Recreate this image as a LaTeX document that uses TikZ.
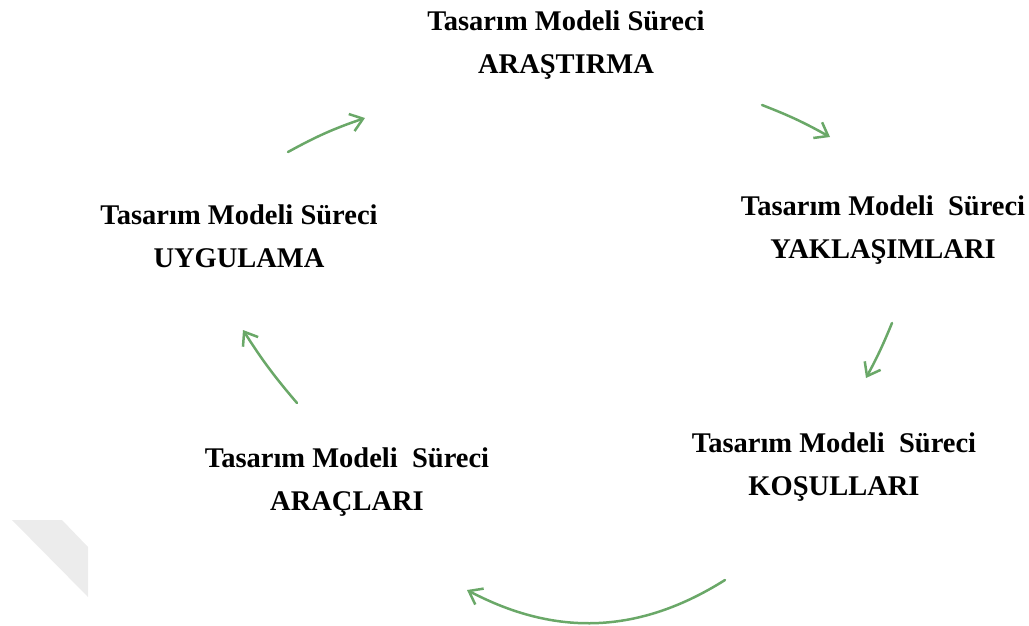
\documentclass[tikz,border=0pt]{standalone}
\usepackage{fontspec}
\setmainfont{Liberation Serif}
\usepackage{xcolor}
\usetikzlibrary{arrows.meta}
\definecolor{cyclegreen}{RGB}{106,168,104}
\definecolor{markgray}{RGB}{236,236,236}

\begin{document}
\begin{tikzpicture}[x=1pt,y=-1pt]
				\useasboundingbox (0,0) rectangle (1029,625);
				\fill[markgray] (12,520) -- (62,520) -- (88,547) -- (88,597) -- cycle;

				\begin{scope}[every node/.style={align=center,anchor=base,inner sep=0pt,font=\bfseries\fontsize{28.5}{43}\selectfont}]
				    \node (arastirma) at (566,73) {Tasarım Modeli Süreci\\ARAŞTIRMA};
				    \node (yaklasim)  at (883,258) {Tasarım Modeli~~Süreci\\YAKLAŞIMLARI};
				    \node (kosul)     at (834,495) {Tasarım Modeli~~Süreci\\KOŞULLARI};
				    \node (arac)      at (347,510) {Tasarım Modeli~~Süreci\\ARAÇLARI};
				    \node (uygulama)  at (239,267) {Tasarım Modeli Süreci\\UYGULAMA};
				\end{scope}

				\coordinate (as) at (288,152); \coordinate (ae) at (365,118);
				\coordinate (bs) at (762,105); \coordinate (be) at (830,137);
				\coordinate (cs) at (892,323); \coordinate (ce) at (866,378);
				\coordinate (ds) at (725,580); \coordinate (de) at (467,590);
				\coordinate (es) at (297,403); \coordinate (ee) at (243,330);

				\begin{scope}[>={Straight Barb[length=12pt,width=18pt]},
				              every edge/.style={draw=cyclegreen,line width=2.5pt,line cap=round}]
				    \path [->] (as) edge[bend left=5] (ae);
				    \path [->] (bs) edge[bend left=4] (be);
				    \path [->] (cs) edge[bend left=3] (ce);
				    \path [->] (ds) edge[bend left=30] (de);
				    \path [->] (es) edge[bend left=4] (ee);
				\end{scope}
\end{tikzpicture}
\end{document}
